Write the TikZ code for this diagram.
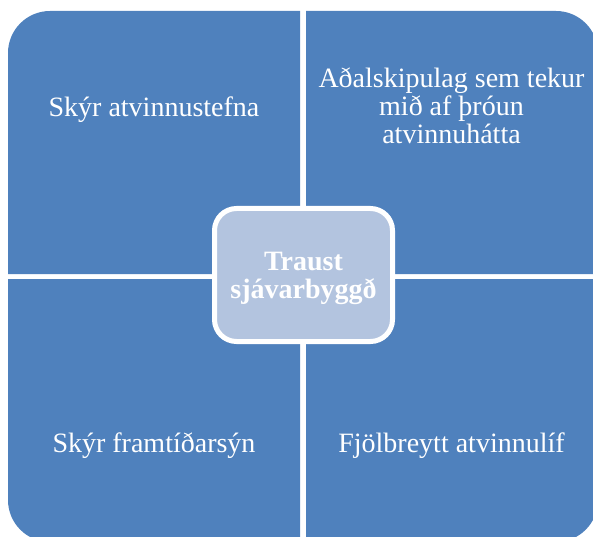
\documentclass[tikz,border=0pt]{standalone}
\usepackage{fontspec}
\setmainfont{Liberation Serif}
\definecolor{qblue}{HTML}{4F81BD}
\definecolor{hubfill}{HTML}{B3C4DF}
\tikzset{
  quad/.style={fill=qblue},
  lbl/.style={text=white, inner sep=0pt, anchor=base, font=\fontsize{28}{27.5}\selectfont},
  hub/.style={fill=hubfill, draw=white, line width=5pt, rounded corners=22pt,
    minimum width=178pt, minimum height=133pt, inner sep=0pt},
  hubtxt/.style={text=white, inner sep=0pt, anchor=base, font=\fontsize{28}{28}\selectfont\bfseries}
}
\begin{document}
\begin{tikzpicture}[x=1pt,y=1pt]
\useasboundingbox (0,0) rectangle (593,536);
% quadrants
\fill[quad] (300,262) -- (8,262) -- (8,483) arc[start angle=180,end angle=90,radius=42] -- (300,525) -- cycle;
\fill[quad] (306,262) -- (306,525) -- (556,525) arc[start angle=90,end angle=0,radius=42] -- (598,262) -- cycle;
\fill[quad] (300,257) -- (8,257) -- (8,36) arc[start angle=180,end angle=270,radius=42] -- (300,-6) -- cycle;
\fill[quad] (306,257) -- (306,-6) -- (556,-6) arc[start angle=270,end angle=360,radius=42] -- (598,257) -- cycle;
% labels
\node[lbl] (tl) at (154,419) {Skýr atvinnustefna};
\node[lbl] (tr) at (451.5,448) {\setlength{\tabcolsep}{0pt}\begin{tabular}[t]{c}Aðalskipulag sem tekur\\ mið af þróun\\ atvinnuhátta\end{tabular}};
\node[lbl] (bl) at (154,84) {Skýr framtíðarsýn};
\node[lbl] (br) at (451.5,84) {Fjölbreytt atvinnulíf};
% hub
\node[hub] (hub) at (303.5,261) {};
\node[hubtxt] (hubt) at (303.5,266) {\setlength{\tabcolsep}{0pt}\begin{tabular}[t]{c}Traust\\ sjávarbyggð\end{tabular}};
\end{tikzpicture}
\end{document}
